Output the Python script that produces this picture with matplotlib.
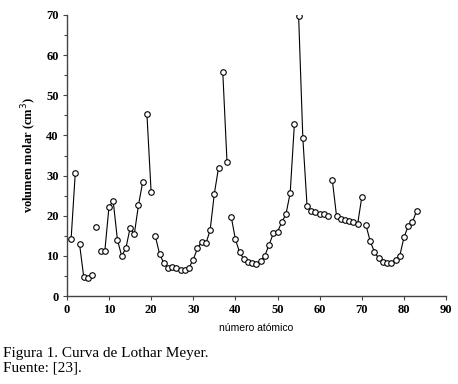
import numpy as np
import matplotlib
matplotlib.use('Agg')
import matplotlib.pyplot as plt
from matplotlib.ticker import MultipleLocator

# numero atomico y volumen molar (cm3)
z = np.arange(1, 84)
volumen = [14.1, 30.7, 13.0, 4.8, 4.4, 5.2, 17.2, 11.1, 11.1, 22.3,
           23.6, 14.0, 10.0, 11.9, 16.9, 15.4, 22.7, 28.4, 45.3, 25.8,
           14.9, 10.5, 8.2, 7.1, 7.3, 7.1, 6.6, 6.6, 7.1, 9.1,
           11.9, 13.5, 13.1, 16.4, 25.5, 32.0, 55.8, 33.5, 19.8, 14.1,
           10.9, 9.2, 8.5, 8.2, 8.0, 8.7, 10.1, 12.8, 15.6, 16.0,
           18.4, 20.4, 25.7, 42.9, 69.8, 39.4, 22.5, 21.3, 20.9, 20.5,
           20.4, 20.0, 28.9, 19.9, 19.3, 19.0, 18.8, 18.5, 17.9, 24.7,
           17.6, 13.6, 11.0, 9.4, 8.4, 8.2, 8.2, 9.1, 10.0, 14.6,
           17.4, 18.4, 21.2]

# tramos unidos por linea (Z inicial, Z final)
tramos = [(1, 2), (3, 6), (8, 18), (19, 20), (21, 36), (37, 38),
          (39, 54), (55, 62), (63, 70), (71, 83)]

serif = ['Liberation Serif', 'DejaVu Serif']
vol = np.array(volumen)

fig = plt.figure(figsize=(4.58, 3.84), dpi=100)
ax = fig.add_axes([0.146, 0.229, 0.828, 0.732])

for a, b in tramos:
    m = (z >= a) & (z <= b)
    ax.plot(z[m], vol[m], '-', color='black', lw=0.8)
ax.plot(z, vol, 'o', ms=4, mfc='white', mec='black', mew=0.8, zorder=3)

ax.set_xlim(0, 90)
ax.set_ylim(0, 70)
ax.xaxis.set_major_locator(MultipleLocator(10))
ax.yaxis.set_major_locator(MultipleLocator(10))
ax.yaxis.set_minor_locator(MultipleLocator(5))
ax.spines['top'].set_visible(False)
ax.spines['right'].set_visible(False)
for s in ['left', 'bottom']:
    ax.spines[s].set_color('#444444')
    ax.spines[s].set_linewidth(1.0)
ax.tick_params(which='major', length=3, width=0.8, color='#444444', pad=3)
ax.tick_params(which='minor', length=2, width=0.8, color='#444444')
for lab in ax.get_xticklabels() + ax.get_yticklabels():
    lab.set_family(serif)
    lab.set_fontweight('bold')
    lab.set_fontsize(9)

ax.set_ylabel('volumen molar (cm$^3$)', family=serif, fontweight='bold',
              fontsize=9, labelpad=5)
ax.set_xlabel('número atómico', family=['Liberation Sans', 'DejaVu Sans'],
              fontsize=7.5, labelpad=5)

fig.text(0.006, 0.097, 'Figura 1. Curva de Lothar Meyer.\nFuente: [23].',
         family=serif, fontsize=11, va='top', ha='left', linespacing=1.2)

fig.savefig('out.png', dpi=100)
